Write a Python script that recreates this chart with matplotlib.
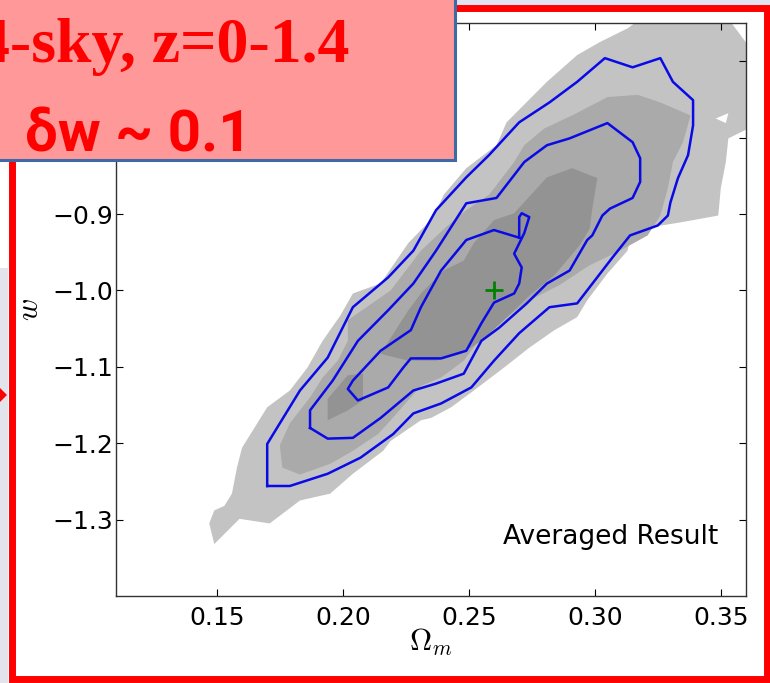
import matplotlib.pyplot as plt
from matplotlib.patches import Rectangle, Polygon

plt.rcParams['mathtext.fontset'] = 'cm'

# contour regions, in (Omega_m, w)
light_om = [0.149, 0.147, 0.149, 0.153, 0.156, 0.158, 0.160, 0.170, 0.179, 0.186, 0.192, 0.199,
            0.204, 0.215, 0.226, 0.236, 0.240, 0.249, 0.261, 0.265, 0.281, 0.293, 0.302, 0.313,
            0.320, 0.352, 0.361, 0.361, 0.353, 0.352, 0.350, 0.349, 0.334, 0.315, 0.313, 0.305,
            0.297, 0.293, 0.284, 0.274, 0.264, 0.252, 0.243, 0.235, 0.231, 0.219, 0.216, 0.204,
            0.195, 0.183, 0.171, 0.159]
light_w = [-1.332, -1.305, -1.288, -1.282, -1.266, -1.232, -1.206, -1.153, -1.131, -1.101, -1.066, -1.033,
           -1.004, -0.991, -0.938, -0.904, -0.875, -0.840, -0.810, -0.780, -0.727, -0.692, -0.675, -0.657,
           -0.640, -0.640, -0.680, -0.788, -0.801, -0.832, -0.866, -0.902, -0.911, -0.921, -0.948, -0.978,
           -1.013, -1.035, -1.052, -1.075, -1.101, -1.131, -1.153, -1.167, -1.170, -1.197, -1.210, -1.240,
           -1.266, -1.275, -1.305, -1.299]

hole_om = [0.348, 0.353, 0.352]
hole_w = [-0.775, -0.768, -0.781]

mid_om = [0.176, 0.175, 0.179, 0.187, 0.192, 0.198, 0.202, 0.202, 0.219, 0.231, 0.241, 0.249,
          0.258, 0.268, 0.272, 0.280, 0.291, 0.305, 0.317, 0.326, 0.338, 0.335, 0.331, 0.329,
          0.326, 0.321, 0.310, 0.298, 0.286, 0.274, 0.266, 0.257, 0.248, 0.239, 0.231, 0.219,
          0.214, 0.204, 0.195, 0.183]
mid_w = [-1.232, -1.203, -1.174, -1.140, -1.114, -1.092, -1.066, -1.039, -1.000, -0.948, -0.917, -0.895,
         -0.875, -0.832, -0.810, -0.788, -0.771, -0.747, -0.744, -0.754, -0.771, -0.806, -0.832, -0.866,
         -0.902, -0.928, -0.948, -0.967, -0.993, -1.013, -1.033, -1.052, -1.092, -1.114, -1.125, -1.170,
         -1.188, -1.210, -1.227, -1.241]

dark_om = [0.215, 0.226, 0.231, 0.240, 0.248, 0.252, 0.260, 0.268, 0.281, 0.291, 0.301, 0.299,
           0.298, 0.294, 0.284, 0.274, 0.264, 0.255, 0.247, 0.237, 0.226]
dark_w = [-1.083, -1.026, -1.004, -0.974, -0.961, -0.938, -0.908, -0.899, -0.852, -0.840, -0.853, -0.893,
          -0.919, -0.941, -0.980, -1.007, -1.039, -1.066, -1.083, -1.092, -1.092]

dark2_om = [0.194, 0.194, 0.202, 0.208, 0.208, 0.202]
dark2_w = [-1.170, -1.142, -1.111, -1.109, -1.144, -1.157]

# blue contour lines
outer_om = [0.170, 0.170, 0.175, 0.183, 0.194, 0.204, 0.218, 0.228, 0.237, 0.249, 0.258, 0.270,
            0.282, 0.293, 0.304, 0.315, 0.326, 0.331, 0.339, 0.339, 0.337, 0.333, 0.330, 0.329,
            0.325, 0.314, 0.307, 0.293, 0.282, 0.270, 0.260, 0.251, 0.239, 0.228, 0.220, 0.207,
            0.194, 0.179, 0.170]
outer_w = [-1.256, -1.201, -1.174, -1.131, -1.088, -1.022, -0.983, -0.948, -0.895, -0.852, -0.823, -0.780,
           -0.754, -0.727, -0.696, -0.708, -0.696, -0.727, -0.751, -0.784, -0.823, -0.853, -0.885, -0.902,
           -0.915, -0.928, -0.957, -1.017, -1.022, -1.056, -1.092, -1.127, -1.148, -1.161, -1.188, -1.219,
           -1.240, -1.256, -1.256]

middle_om = [0.187, 0.187, 0.196, 0.206, 0.218, 0.228, 0.237, 0.249, 0.261, 0.272, 0.281, 0.290,
             0.305, 0.315, 0.318, 0.318, 0.315, 0.306, 0.303, 0.299, 0.297, 0.290, 0.281, 0.273,
             0.262, 0.255, 0.248, 0.237, 0.228, 0.215, 0.204, 0.194, 0.187]
middle_w = [-1.180, -1.157, -1.118, -1.066, -1.026, -0.991, -0.948, -0.886, -0.879, -0.832, -0.810, -0.801,
            -0.781, -0.806, -0.827, -0.858, -0.879, -0.893, -0.902, -0.928, -0.934, -0.974, -0.991, -1.017,
            -1.049, -1.066, -1.109, -1.122, -1.131, -1.167, -1.193, -1.194, -1.180]

inner_om = [0.270, 0.270, 0.271, 0.274, 0.272, 0.268, 0.271, 0.270, 0.268, 0.260, 0.255, 0.249,
            0.239, 0.227, 0.224, 0.218, 0.206, 0.202, 0.204, 0.215, 0.227, 0.231, 0.239, 0.249,
            0.260, 0.270]
inner_w = [-0.931, -0.904, -0.899, -0.904, -0.925, -0.952, -0.970, -0.991, -1.004, -1.016, -1.043, -1.079,
           -1.089, -1.089, -1.101, -1.127, -1.144, -1.129, -1.118, -1.079, -1.052, -1.022, -0.974, -0.934,
           -0.921, -0.931]

fid_om = [0.26]
fid_w = [-1.0]

xticks = [0.15, 0.20, 0.25, 0.30, 0.35]
yticks = [-1.3, -1.2, -1.1, -1.0, -0.9, -0.8, -0.7]
# labels of -0.8 and -0.7 sit under the note box
ytick_labels = ['\u22121.3', '\u22121.2', '\u22121.1', '\u22121.0', '\u22120.9', '', '']

W, H = 770, 683
fig = plt.figure(figsize=(W / 100, H / 100), dpi=100)
fig.patch.set_facecolor('white')

ax = fig.add_axes([116 / W, 1 - 596 / H, 630 / W, 573 / H])
ax.fill(light_om, light_w, color='#c3c3c3', lw=0, zorder=1)
ax.fill(hole_om, hole_w, color='white', lw=0, zorder=1.5)
ax.fill(mid_om, mid_w, color='#aaaaaa', lw=0, zorder=2)
ax.fill(dark_om, dark_w, color='#939393', lw=0, zorder=3)
ax.fill(dark2_om, dark2_w, color='#939393', lw=0, zorder=3)
for om, w in [(outer_om, outer_w), (middle_om, middle_w), (inner_om, inner_w)]:
    ax.plot(om, w, color='#0a0ae6', lw=1.8, zorder=4)
ax.plot(fid_om, fid_w, '+', color='#008000', ms=13, mew=2, zorder=5)

ax.set_xlim(0.11, 0.36)
ax.set_ylim(-1.4, -0.65)
ax.set_xticks(xticks)
ax.set_yticks(yticks)
ax.set_xticklabels(['%.2f' % t for t in xticks])
ax.set_yticklabels(ytick_labels)
ax.tick_params(direction='in', top=True, right=True, length=5, width=0.8, labelsize=18)
ax.tick_params(axis='x', pad=7)
ax.tick_params(axis='y', pad=2)
for s in ax.spines.values():
    s.set_color('#333333')
    s.set_linewidth(1)
ax.set_xlabel(r'$\Omega_m$', fontsize=22, labelpad=-2)
ax.set_ylabel(r'$w$', fontsize=22, labelpad=6)
ax.text(0.956, 0.091, 'Averaged Result', transform=ax.transAxes, ha='right', va='baseline',
        fontsize=19)

# slide pieces around the plot
fig.add_artist(Rectangle((0, 0), 8 / W, 1 - 268 / H, transform=fig.transFigure,
                         fc='#e3e3ec', ec='none', zorder=2))
fig.add_artist(Rectangle((455 / W, 1 - 6 / H), 1, 6 / H, transform=fig.transFigure,
                         fc='#e1e3f0', ec='none', zorder=2))
fig.add_artist(Polygon([(0, 1 - 388 / H), (7 / W, 1 - 395 / H), (0, 1 - 402 / H)],
                       closed=True, transform=fig.transFigure, fc='red', ec='none', zorder=3))
fig.add_artist(Rectangle((11.5 / W, 1 - 679 / H), 755 / W, 671.5 / H, transform=fig.transFigure,
                         fill=False, ec='#ff0000', lw=5, zorder=4))

fig.add_artist(Rectangle((-10 / W, 1 - 160 / H), 465 / W, 170 / H, transform=fig.transFigure,
                         fc='#ff9898', ec='#3d6aa6', lw=2.2, zorder=10))
fig.text(349 / W, 1 - 62 / H, '4-sky, z=0-1.4', ha='right', va='baseline', fontsize=46,
         fontweight='bold', family=['Liberation Serif', 'DejaVu Serif'], color='#ff0000', zorder=11)
fig.text(25 / W, 1 - 152 / H, '\u03b4w ~ 0.1', ha='left', va='baseline', fontsize=42,
         fontweight='bold', family=['Roboto', 'DejaVu Sans'], color='#ff0000', zorder=11)

fig.savefig('out.png', dpi=100)
